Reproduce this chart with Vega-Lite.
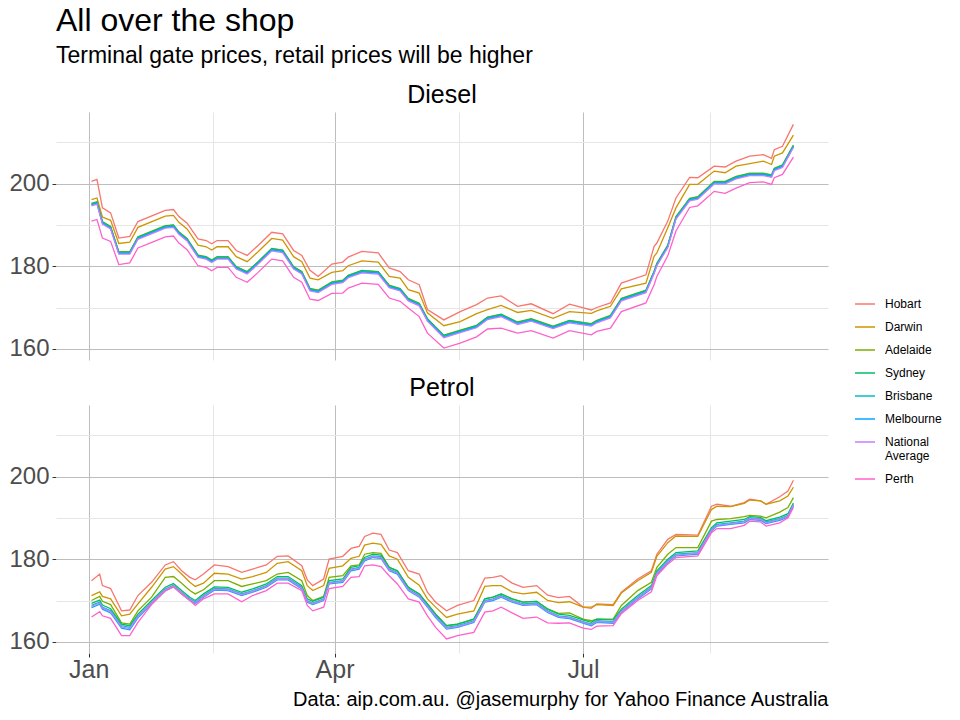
{
  "$schema": "https://vega.github.io/schema/vega-lite/v6.json",
  "background": "white",
  "padding": {"left": 8, "top": 5, "right": 5, "bottom": 5},
  "title": {
    "text": "All over the shop",
    "subtitle": "Terminal gate prices, retail prices will be higher",
    "anchor": "start",
    "frame": "group",
    "font": "Liberation Sans",
    "subtitleFont": "Liberation Sans",
    "fontSize": 32,
    "subtitleFontSize": 23,
    "fontWeight": "normal",
    "color": "black",
    "subtitleColor": "black",
    "subtitlePadding": 7,
    "offset": 14
  },
  "data": {"values": [
    {"fuel":"Diesel","date":"2023/01/02","Hobart":200.5,"Darwin":196.1,"Adelaide":195.2,"Sydney":195.1,"Brisbane":194.9,"Melbourne":194.8,"National Average":194.6,"Perth":190.9},
    {"fuel":"Diesel","date":"2023/01/04","Hobart":201.0,"Darwin":196.5,"Adelaide":195.6,"Sydney":195.5,"Brisbane":195.3,"Melbourne":195.2,"National Average":195.0,"Perth":191.3},
    {"fuel":"Diesel","date":"2023/01/06","Hobart":194.1,"Darwin":191.9,"Adelaide":190.8,"Sydney":190.7,"Brisbane":190.5,"Melbourne":190.4,"National Average":190.2,"Perth":186.8},
    {"fuel":"Diesel","date":"2023/01/09","Hobart":192.9,"Darwin":191.1,"Adelaide":189.6,"Sydney":189.5,"Brisbane":189.3,"Melbourne":189.2,"National Average":189.0,"Perth":186.0},
    {"fuel":"Diesel","date":"2023/01/12","Hobart":186.8,"Darwin":185.5,"Adelaide":183.5,"Sydney":183.4,"Brisbane":183.2,"Melbourne":183.1,"National Average":182.9,"Perth":180.4},
    {"fuel":"Diesel","date":"2023/01/16","Hobart":187.2,"Darwin":185.8,"Adelaide":183.5,"Sydney":183.4,"Brisbane":183.2,"Melbourne":183.1,"National Average":182.9,"Perth":180.8},
    {"fuel":"Diesel","date":"2023/01/19","Hobart":190.8,"Darwin":189.4,"Adelaide":187.1,"Sydney":187.0,"Brisbane":186.8,"Melbourne":186.7,"National Average":186.5,"Perth":184.4},
    {"fuel":"Diesel","date":"2023/01/25","Hobart":192.4,"Darwin":191.0,"Adelaide":188.7,"Sydney":188.6,"Brisbane":188.4,"Melbourne":188.3,"National Average":188.1,"Perth":186.0},
    {"fuel":"Diesel","date":"2023/01/29","Hobart":193.5,"Darwin":192.1,"Adelaide":189.8,"Sydney":189.7,"Brisbane":189.5,"Melbourne":189.4,"National Average":189.2,"Perth":187.1},
    {"fuel":"Diesel","date":"2023/02/01","Hobart":193.7,"Darwin":192.3,"Adelaide":190.0,"Sydney":189.9,"Brisbane":189.7,"Melbourne":189.6,"National Average":189.4,"Perth":187.3},
    {"fuel":"Diesel","date":"2023/02/03","Hobart":192.0,"Darwin":190.6,"Adelaide":188.3,"Sydney":188.2,"Brisbane":188.0,"Melbourne":187.9,"National Average":187.7,"Perth":185.6},
    {"fuel":"Diesel","date":"2023/02/06","Hobart":190.4,"Darwin":189.0,"Adelaide":186.7,"Sydney":186.6,"Brisbane":186.4,"Melbourne":186.3,"National Average":186.1,"Perth":184.0},
    {"fuel":"Diesel","date":"2023/02/10","Hobart":186.6,"Darwin":185.1,"Adelaide":182.7,"Sydney":182.6,"Brisbane":182.4,"Melbourne":182.3,"National Average":182.1,"Perth":180.1},
    {"fuel":"Diesel","date":"2023/02/13","Hobart":186.2,"Darwin":184.7,"Adelaide":182.3,"Sydney":182.2,"Brisbane":182.0,"Melbourne":181.9,"National Average":181.7,"Perth":179.7},
    {"fuel":"Diesel","date":"2023/02/15","Hobart":185.4,"Darwin":183.9,"Adelaide":181.5,"Sydney":181.4,"Brisbane":181.2,"Melbourne":181.1,"National Average":180.9,"Perth":178.9},
    {"fuel":"Diesel","date":"2023/02/17","Hobart":186.2,"Darwin":184.7,"Adelaide":182.3,"Sydney":182.2,"Brisbane":182.0,"Melbourne":181.9,"National Average":181.7,"Perth":179.7},
    {"fuel":"Diesel","date":"2023/02/21","Hobart":186.2,"Darwin":184.7,"Adelaide":182.3,"Sydney":182.2,"Brisbane":182.0,"Melbourne":181.9,"National Average":181.7,"Perth":179.7},
    {"fuel":"Diesel","date":"2023/02/24","Hobart":183.8,"Darwin":182.3,"Adelaide":179.9,"Sydney":179.8,"Brisbane":179.6,"Melbourne":179.5,"National Average":179.3,"Perth":177.3},
    {"fuel":"Diesel","date":"2023/02/28","Hobart":182.6,"Darwin":181.1,"Adelaide":178.7,"Sydney":178.6,"Brisbane":178.4,"Melbourne":178.3,"National Average":178.1,"Perth":176.1},
    {"fuel":"Diesel","date":"2023/03/04","Hobart":185.0,"Darwin":183.5,"Adelaide":181.1,"Sydney":181.0,"Brisbane":180.8,"Melbourne":180.7,"National Average":180.5,"Perth":178.5},
    {"fuel":"Diesel","date":"2023/03/09","Hobart":188.2,"Darwin":186.7,"Adelaide":184.3,"Sydney":184.2,"Brisbane":184.0,"Melbourne":183.9,"National Average":183.7,"Perth":181.7},
    {"fuel":"Diesel","date":"2023/03/13","Hobart":187.8,"Darwin":186.3,"Adelaide":183.9,"Sydney":183.8,"Brisbane":183.6,"Melbourne":183.5,"National Average":183.3,"Perth":181.3},
    {"fuel":"Diesel","date":"2023/03/17","Hobart":183.8,"Darwin":182.3,"Adelaide":179.9,"Sydney":179.8,"Brisbane":179.6,"Melbourne":179.5,"National Average":179.3,"Perth":177.3},
    {"fuel":"Diesel","date":"2023/03/20","Hobart":182.6,"Darwin":181.1,"Adelaide":178.7,"Sydney":178.6,"Brisbane":178.4,"Melbourne":178.3,"National Average":178.1,"Perth":176.1},
    {"fuel":"Diesel","date":"2023/03/23","Hobart":179.0,"Darwin":177.1,"Adelaide":174.6,"Sydney":174.5,"Brisbane":174.3,"Melbourne":174.2,"National Average":174.0,"Perth":172.0},
    {"fuel":"Diesel","date":"2023/03/26","Hobart":177.5,"Darwin":176.7,"Adelaide":174.2,"Sydney":174.1,"Brisbane":173.9,"Melbourne":173.8,"National Average":173.6,"Perth":171.7},
    {"fuel":"Diesel","date":"2023/03/31","Hobart":180.5,"Darwin":178.5,"Adelaide":176.2,"Sydney":176.1,"Brisbane":175.9,"Melbourne":175.8,"National Average":175.6,"Perth":173.4},
    {"fuel":"Diesel","date":"2023/04/04","Hobart":181.0,"Darwin":178.9,"Adelaide":176.6,"Sydney":176.5,"Brisbane":176.3,"Melbourne":176.2,"National Average":176.0,"Perth":173.5},
    {"fuel":"Diesel","date":"2023/04/06","Hobart":182.2,"Darwin":180.1,"Adelaide":177.8,"Sydney":177.7,"Brisbane":177.5,"Melbourne":177.4,"National Average":177.2,"Perth":174.7},
    {"fuel":"Diesel","date":"2023/04/11","Hobart":183.6,"Darwin":181.3,"Adelaide":179.0,"Sydney":178.9,"Brisbane":178.7,"Melbourne":178.6,"National Average":178.4,"Perth":175.9},
    {"fuel":"Diesel","date":"2023/04/17","Hobart":183.2,"Darwin":181.0,"Adelaide":178.7,"Sydney":178.6,"Brisbane":178.4,"Melbourne":178.3,"National Average":178.1,"Perth":175.6},
    {"fuel":"Diesel","date":"2023/04/21","Hobart":179.6,"Darwin":177.5,"Adelaide":175.4,"Sydney":175.3,"Brisbane":175.1,"Melbourne":175.0,"National Average":174.8,"Perth":172.3},
    {"fuel":"Diesel","date":"2023/04/25","Hobart":178.7,"Darwin":177.1,"Adelaide":174.6,"Sydney":174.5,"Brisbane":174.3,"Melbourne":174.2,"National Average":174.0,"Perth":171.5},
    {"fuel":"Diesel","date":"2023/04/28","Hobart":176.7,"Darwin":174.3,"Adelaide":172.2,"Sydney":172.1,"Brisbane":171.9,"Melbourne":171.8,"National Average":171.6,"Perth":169.9},
    {"fuel":"Diesel","date":"2023/05/02","Hobart":175.5,"Darwin":173.5,"Adelaide":171.0,"Sydney":170.9,"Brisbane":170.7,"Melbourne":170.6,"National Average":170.4,"Perth":167.8},
    {"fuel":"Diesel","date":"2023/05/05","Hobart":169.5,"Darwin":168.7,"Adelaide":167.3,"Sydney":167.2,"Brisbane":167.0,"Melbourne":166.9,"National Average":166.7,"Perth":163.8},
    {"fuel":"Diesel","date":"2023/05/11","Hobart":167.0,"Darwin":165.6,"Adelaide":163.3,"Sydney":163.2,"Brisbane":163.0,"Melbourne":162.9,"National Average":162.7,"Perth":160.2},
    {"fuel":"Diesel","date":"2023/05/17","Hobart":169.0,"Darwin":166.6,"Adelaide":164.5,"Sydney":164.4,"Brisbane":164.2,"Melbourne":164.1,"National Average":163.9,"Perth":161.4},
    {"fuel":"Diesel","date":"2023/05/23","Hobart":170.7,"Darwin":168.5,"Adelaide":165.7,"Sydney":165.6,"Brisbane":165.4,"Melbourne":165.3,"National Average":165.1,"Perth":162.9},
    {"fuel":"Diesel","date":"2023/05/27","Hobart":172.3,"Darwin":169.5,"Adelaide":167.7,"Sydney":167.6,"Brisbane":167.4,"Melbourne":167.3,"National Average":167.1,"Perth":164.8},
    {"fuel":"Diesel","date":"2023/06/01","Hobart":172.8,"Darwin":170.5,"Adelaide":168.4,"Sydney":168.3,"Brisbane":168.1,"Melbourne":168.0,"National Average":167.8,"Perth":165.0},
    {"fuel":"Diesel","date":"2023/06/07","Hobart":170.3,"Darwin":168.8,"Adelaide":166.5,"Sydney":166.4,"Brisbane":166.2,"Melbourne":166.1,"National Average":165.9,"Perth":163.8},
    {"fuel":"Diesel","date":"2023/06/12","Hobart":170.9,"Darwin":169.3,"Adelaide":167.3,"Sydney":167.2,"Brisbane":167.0,"Melbourne":166.9,"National Average":166.7,"Perth":164.4},
    {"fuel":"Diesel","date":"2023/06/20","Hobart":168.5,"Darwin":167.4,"Adelaide":165.5,"Sydney":165.4,"Brisbane":165.2,"Melbourne":165.1,"National Average":164.9,"Perth":162.6},
    {"fuel":"Diesel","date":"2023/06/26","Hobart":170.8,"Darwin":169.0,"Adelaide":166.9,"Sydney":166.8,"Brisbane":166.6,"Melbourne":166.5,"National Average":166.3,"Perth":164.4},
    {"fuel":"Diesel","date":"2023/07/04","Hobart":169.4,"Darwin":168.6,"Adelaide":166.1,"Sydney":166.0,"Brisbane":165.8,"Melbourne":165.7,"National Average":165.5,"Perth":163.4},
    {"fuel":"Diesel","date":"2023/07/06","Hobart":170.0,"Darwin":169.2,"Adelaide":166.9,"Sydney":166.8,"Brisbane":166.6,"Melbourne":166.5,"National Average":166.3,"Perth":164.2},
    {"fuel":"Diesel","date":"2023/07/11","Hobart":171.1,"Darwin":170.3,"Adelaide":168.1,"Sydney":168.0,"Brisbane":167.8,"Melbourne":167.7,"National Average":167.5,"Perth":165.0},
    {"fuel":"Diesel","date":"2023/07/15","Hobart":175.9,"Darwin":174.5,"Adelaide":172.2,"Sydney":172.1,"Brisbane":171.9,"Melbourne":171.8,"National Average":171.6,"Perth":169.0},
    {"fuel":"Diesel","date":"2023/07/24","Hobart":177.9,"Darwin":175.9,"Adelaide":174.2,"Sydney":174.1,"Brisbane":173.9,"Melbourne":173.8,"National Average":173.6,"Perth":171.1},
    {"fuel":"Diesel","date":"2023/07/27","Hobart":184.8,"Darwin":182.4,"Adelaide":178.8,"Sydney":178.7,"Brisbane":178.5,"Melbourne":178.4,"National Average":178.2,"Perth":175.5},
    {"fuel":"Diesel","date":"2023/07/28","Hobart":185.6,"Darwin":183.2,"Adelaide":180.7,"Sydney":180.6,"Brisbane":180.4,"Melbourne":180.3,"National Average":180.1,"Perth":177.5},
    {"fuel":"Diesel","date":"2023/08/01","Hobart":190.9,"Darwin":189.3,"Adelaide":185.1,"Sydney":185.0,"Brisbane":184.8,"Melbourne":184.7,"National Average":184.5,"Perth":182.5},
    {"fuel":"Diesel","date":"2023/08/04","Hobart":196.5,"Darwin":194.1,"Adelaide":192.0,"Sydney":191.9,"Brisbane":191.7,"Melbourne":191.6,"National Average":191.4,"Perth":188.5},
    {"fuel":"Diesel","date":"2023/08/09","Hobart":201.5,"Darwin":199.8,"Adelaide":196.4,"Sydney":196.3,"Brisbane":196.1,"Melbourne":196.0,"National Average":195.8,"Perth":194.2},
    {"fuel":"Diesel","date":"2023/08/12","Hobart":201.4,"Darwin":199.8,"Adelaide":196.8,"Sydney":196.7,"Brisbane":196.5,"Melbourne":196.4,"National Average":196.2,"Perth":194.6},
    {"fuel":"Diesel","date":"2023/08/18","Hobart":204.2,"Darwin":203.0,"Adelaide":200.5,"Sydney":200.4,"Brisbane":200.2,"Melbourne":200.1,"National Average":199.9,"Perth":198.1},
    {"fuel":"Diesel","date":"2023/08/22","Hobart":204.0,"Darwin":202.6,"Adelaide":200.5,"Sydney":200.4,"Brisbane":200.2,"Melbourne":200.1,"National Average":199.9,"Perth":197.6},
    {"fuel":"Diesel","date":"2023/08/26","Hobart":205.4,"Darwin":204.2,"Adelaide":201.7,"Sydney":201.6,"Brisbane":201.4,"Melbourne":201.3,"National Average":201.1,"Perth":198.9},
    {"fuel":"Diesel","date":"2023/08/31","Hobart":206.6,"Darwin":204.8,"Adelaide":202.5,"Sydney":202.4,"Brisbane":202.2,"Melbourne":202.1,"National Average":201.9,"Perth":200.2},
    {"fuel":"Diesel","date":"2023/09/05","Hobart":207.0,"Darwin":205.4,"Adelaide":202.5,"Sydney":202.4,"Brisbane":202.2,"Melbourne":202.1,"National Average":201.9,"Perth":200.4},
    {"fuel":"Diesel","date":"2023/09/08","Hobart":206.1,"Darwin":204.6,"Adelaide":202.1,"Sydney":202.0,"Brisbane":201.8,"Melbourne":201.7,"National Average":201.5,"Perth":199.8},
    {"fuel":"Diesel","date":"2023/09/09","Hobart":208.2,"Darwin":206.6,"Adelaide":203.7,"Sydney":203.6,"Brisbane":203.4,"Melbourne":203.3,"National Average":203.1,"Perth":201.4},
    {"fuel":"Diesel","date":"2023/09/12","Hobart":209.0,"Darwin":207.4,"Adelaide":204.5,"Sydney":204.4,"Brisbane":204.2,"Melbourne":204.1,"National Average":203.9,"Perth":202.2},
    {"fuel":"Diesel","date":"2023/09/16","Hobart":214.3,"Darwin":211.7,"Adelaide":209.3,"Sydney":209.2,"Brisbane":209.0,"Melbourne":208.9,"National Average":208.7,"Perth":206.4},
    {"fuel":"Petrol","date":"2023/01/02","Hobart":174.8,"Darwin":171.2,"Adelaide":170.0,"Sydney":169.3,"Brisbane":168.8,"Melbourne":168.3,"National Average":168.6,"Perth":166.0},
    {"fuel":"Petrol","date":"2023/01/05","Hobart":176.4,"Darwin":172.1,"Adelaide":171.0,"Sydney":170.1,"Brisbane":169.6,"Melbourne":169.1,"National Average":169.4,"Perth":167.3},
    {"fuel":"Petrol","date":"2023/01/06","Hobart":173.6,"Darwin":171.0,"Adelaide":169.8,"Sydney":168.9,"Brisbane":168.4,"Melbourne":167.9,"National Average":168.2,"Perth":166.3},
    {"fuel":"Petrol","date":"2023/01/09","Hobart":172.9,"Darwin":170.4,"Adelaide":169.0,"Sydney":168.0,"Brisbane":167.5,"Melbourne":167.0,"National Average":167.3,"Perth":165.7},
    {"fuel":"Petrol","date":"2023/01/13","Hobart":167.5,"Darwin":166.3,"Adelaide":164.6,"Sydney":164.3,"Brisbane":163.9,"Melbourne":163.3,"National Average":163.6,"Perth":161.5},
    {"fuel":"Petrol","date":"2023/01/16","Hobart":167.7,"Darwin":166.7,"Adelaide":164.3,"Sydney":163.9,"Brisbane":163.5,"Melbourne":162.9,"National Average":163.2,"Perth":161.5},
    {"fuel":"Petrol","date":"2023/01/19","Hobart":171.2,"Darwin":169.2,"Adelaide":167.5,"Sydney":166.7,"Brisbane":166.3,"Melbourne":165.8,"National Average":166.1,"Perth":164.7},
    {"fuel":"Petrol","date":"2023/01/24","Hobart":174.4,"Darwin":173.2,"Adelaide":170.8,"Sydney":170.0,"Brisbane":169.6,"Melbourne":169.2,"National Average":169.4,"Perth":169.0},
    {"fuel":"Petrol","date":"2023/01/29","Hobart":178.6,"Darwin":177.6,"Adelaide":175.6,"Sydney":173.2,"Brisbane":172.8,"Melbourne":172.4,"National Average":172.6,"Perth":172.3},
    {"fuel":"Petrol","date":"2023/02/01","Hobart":179.4,"Darwin":178.2,"Adelaide":175.8,"Sydney":174.1,"Brisbane":173.7,"Melbourne":173.3,"National Average":173.5,"Perth":173.3},
    {"fuel":"Petrol","date":"2023/02/04","Hobart":177.2,"Darwin":176.4,"Adelaide":174.2,"Sydney":172.4,"Brisbane":172.0,"Melbourne":171.6,"National Average":171.8,"Perth":171.6},
    {"fuel":"Petrol","date":"2023/02/07","Hobart":175.6,"Darwin":174.4,"Adelaide":172.4,"Sydney":170.8,"Brisbane":170.4,"Melbourne":170.0,"National Average":170.2,"Perth":170.0},
    {"fuel":"Petrol","date":"2023/02/09","Hobart":175.0,"Darwin":173.4,"Adelaide":171.6,"Sydney":170.0,"Brisbane":169.6,"Melbourne":169.2,"National Average":169.4,"Perth":168.8},
    {"fuel":"Petrol","date":"2023/02/12","Hobart":176.4,"Darwin":174.2,"Adelaide":172.6,"Sydney":171.6,"Brisbane":171.2,"Melbourne":170.8,"National Average":171.0,"Perth":170.4},
    {"fuel":"Petrol","date":"2023/02/16","Hobart":178.6,"Darwin":176.6,"Adelaide":174.8,"Sydney":173.3,"Brisbane":172.9,"Melbourne":172.5,"National Average":172.7,"Perth":171.6},
    {"fuel":"Petrol","date":"2023/02/21","Hobart":178.2,"Darwin":176.4,"Adelaide":174.8,"Sydney":173.2,"Brisbane":172.8,"Melbourne":172.4,"National Average":172.6,"Perth":171.6},
    {"fuel":"Petrol","date":"2023/02/26","Hobart":176.8,"Darwin":175.2,"Adelaide":173.4,"Sydney":172.0,"Brisbane":171.6,"Melbourne":171.2,"National Average":171.4,"Perth":169.7},
    {"fuel":"Petrol","date":"2023/03/02","Hobart":177.6,"Darwin":175.8,"Adelaide":174.0,"Sydney":172.8,"Brisbane":172.4,"Melbourne":172.0,"National Average":172.2,"Perth":171.2},
    {"fuel":"Petrol","date":"2023/03/07","Hobart":178.6,"Darwin":176.8,"Adelaide":174.8,"Sydney":174.0,"Brisbane":173.6,"Melbourne":173.2,"National Average":173.4,"Perth":172.4},
    {"fuel":"Petrol","date":"2023/03/11","Hobart":180.7,"Darwin":179.0,"Adelaide":176.4,"Sydney":175.8,"Brisbane":175.4,"Melbourne":175.0,"National Average":175.2,"Perth":174.2},
    {"fuel":"Petrol","date":"2023/03/15","Hobart":180.8,"Darwin":179.4,"Adelaide":176.8,"Sydney":175.8,"Brisbane":175.4,"Melbourne":175.0,"National Average":175.2,"Perth":174.2},
    {"fuel":"Petrol","date":"2023/03/20","Hobart":178.4,"Darwin":177.2,"Adelaide":174.8,"Sydney":173.6,"Brisbane":173.2,"Melbourne":172.8,"National Average":173.0,"Perth":172.4},
    {"fuel":"Petrol","date":"2023/03/22","Hobart":175.0,"Darwin":173.6,"Adelaide":171.2,"Sydney":170.4,"Brisbane":170.0,"Melbourne":169.6,"National Average":169.8,"Perth":168.8},
    {"fuel":"Petrol","date":"2023/03/24","Hobart":173.6,"Darwin":172.4,"Adelaide":170.0,"Sydney":169.8,"Brisbane":169.4,"Melbourne":169.0,"National Average":169.2,"Perth":167.5},
    {"fuel":"Petrol","date":"2023/03/28","Hobart":175.2,"Darwin":173.6,"Adelaide":171.0,"Sydney":170.8,"Brisbane":170.4,"Melbourne":170.0,"National Average":170.2,"Perth":168.4},
    {"fuel":"Petrol","date":"2023/03/30","Hobart":180.0,"Darwin":177.8,"Adelaide":175.6,"Sydney":174.8,"Brisbane":174.4,"Melbourne":174.0,"National Average":174.2,"Perth":172.9},
    {"fuel":"Petrol","date":"2023/04/04","Hobart":180.7,"Darwin":178.4,"Adelaide":176.0,"Sydney":175.2,"Brisbane":174.8,"Melbourne":174.4,"National Average":174.6,"Perth":173.4},
    {"fuel":"Petrol","date":"2023/04/07","Hobart":182.6,"Darwin":180.2,"Adelaide":178.4,"Sydney":178.0,"Brisbane":177.6,"Melbourne":177.2,"National Average":177.4,"Perth":175.6},
    {"fuel":"Petrol","date":"2023/04/10","Hobart":183.1,"Darwin":180.7,"Adelaide":178.6,"Sydney":178.4,"Brisbane":178.0,"Melbourne":177.6,"National Average":177.8,"Perth":175.8},
    {"fuel":"Petrol","date":"2023/04/12","Hobart":185.5,"Darwin":183.4,"Adelaide":181.2,"Sydney":180.4,"Brisbane":180.0,"Melbourne":179.6,"National Average":179.8,"Perth":178.4},
    {"fuel":"Petrol","date":"2023/04/15","Hobart":186.3,"Darwin":183.9,"Adelaide":181.6,"Sydney":181.2,"Brisbane":180.8,"Melbourne":180.4,"National Average":180.6,"Perth":178.6},
    {"fuel":"Petrol","date":"2023/04/18","Hobart":186.0,"Darwin":183.6,"Adelaide":181.4,"Sydney":181.0,"Brisbane":180.6,"Melbourne":180.2,"National Average":180.4,"Perth":178.2},
    {"fuel":"Petrol","date":"2023/04/21","Hobart":182.2,"Darwin":180.8,"Adelaide":178.0,"Sydney":178.0,"Brisbane":177.6,"Melbourne":177.2,"National Average":177.4,"Perth":176.0},
    {"fuel":"Petrol","date":"2023/04/24","Hobart":181.6,"Darwin":180.0,"Adelaide":177.2,"Sydney":177.2,"Brisbane":176.8,"Melbourne":176.4,"National Average":176.6,"Perth":174.0},
    {"fuel":"Petrol","date":"2023/04/28","Hobart":177.2,"Darwin":175.6,"Adelaide":173.2,"Sydney":173.2,"Brisbane":172.8,"Melbourne":172.4,"National Average":172.6,"Perth":170.4},
    {"fuel":"Petrol","date":"2023/05/02","Hobart":176.4,"Darwin":173.7,"Adelaide":171.6,"Sydney":171.6,"Brisbane":171.2,"Melbourne":170.8,"National Average":171.0,"Perth":169.6},
    {"fuel":"Petrol","date":"2023/05/05","Hobart":172.0,"Darwin":170.4,"Adelaide":169.2,"Sydney":169.2,"Brisbane":168.8,"Melbourne":168.4,"National Average":168.6,"Perth":166.3},
    {"fuel":"Petrol","date":"2023/05/08","Hobart":169.6,"Darwin":168.4,"Adelaide":166.7,"Sydney":166.7,"Brisbane":166.3,"Melbourne":165.9,"National Average":166.1,"Perth":163.5},
    {"fuel":"Petrol","date":"2023/05/12","Hobart":167.5,"Darwin":165.9,"Adelaide":163.9,"Sydney":163.9,"Brisbane":163.5,"Melbourne":163.1,"National Average":163.3,"Perth":160.7},
    {"fuel":"Petrol","date":"2023/05/16","Hobart":168.8,"Darwin":166.7,"Adelaide":164.3,"Sydney":164.3,"Brisbane":163.9,"Melbourne":163.5,"National Average":163.7,"Perth":161.5},
    {"fuel":"Petrol","date":"2023/05/22","Hobart":170.0,"Darwin":167.5,"Adelaide":165.5,"Sydney":165.5,"Brisbane":165.1,"Melbourne":164.7,"National Average":164.9,"Perth":162.3},
    {"fuel":"Petrol","date":"2023/05/26","Hobart":175.4,"Darwin":173.4,"Adelaide":170.4,"Sydney":170.4,"Brisbane":170.0,"Melbourne":169.6,"National Average":169.8,"Perth":167.2},
    {"fuel":"Petrol","date":"2023/05/29","Hobart":175.6,"Darwin":173.6,"Adelaide":170.8,"Sydney":170.8,"Brisbane":170.4,"Melbourne":170.0,"National Average":170.2,"Perth":167.5},
    {"fuel":"Petrol","date":"2023/06/01","Hobart":176.0,"Darwin":173.6,"Adelaide":171.6,"Sydney":171.6,"Brisbane":171.2,"Melbourne":170.8,"National Average":171.0,"Perth":168.4},
    {"fuel":"Petrol","date":"2023/06/05","Hobart":174.2,"Darwin":172.1,"Adelaide":170.4,"Sydney":170.4,"Brisbane":170.0,"Melbourne":169.6,"National Average":169.8,"Perth":167.0},
    {"fuel":"Petrol","date":"2023/06/09","Hobart":173.2,"Darwin":171.6,"Adelaide":169.6,"Sydney":169.6,"Brisbane":169.2,"Melbourne":168.8,"National Average":169.0,"Perth":165.7},
    {"fuel":"Petrol","date":"2023/06/14","Hobart":173.6,"Darwin":172.0,"Adelaide":169.8,"Sydney":169.8,"Brisbane":169.4,"Melbourne":169.0,"National Average":169.2,"Perth":166.0},
    {"fuel":"Petrol","date":"2023/06/18","Hobart":171.3,"Darwin":170.0,"Adelaide":168.0,"Sydney":167.9,"Brisbane":167.5,"Melbourne":167.1,"National Average":167.3,"Perth":164.6},
    {"fuel":"Petrol","date":"2023/06/22","Hobart":170.7,"Darwin":169.5,"Adelaide":166.9,"Sydney":166.7,"Brisbane":166.3,"Melbourne":165.9,"National Average":166.1,"Perth":164.5},
    {"fuel":"Petrol","date":"2023/06/26","Hobart":171.0,"Darwin":169.7,"Adelaide":167.0,"Sydney":166.4,"Brisbane":166.0,"Melbourne":165.6,"National Average":165.8,"Perth":164.6},
    {"fuel":"Petrol","date":"2023/07/01","Hobart":168.4,"Darwin":168.4,"Adelaide":165.5,"Sydney":165.3,"Brisbane":164.9,"Melbourne":164.5,"National Average":164.7,"Perth":163.3},
    {"fuel":"Petrol","date":"2023/07/04","Hobart":168.1,"Darwin":168.4,"Adelaide":165.1,"Sydney":164.7,"Brisbane":164.3,"Melbourne":163.9,"National Average":164.1,"Perth":163.0},
    {"fuel":"Petrol","date":"2023/07/06","Hobart":169.2,"Darwin":169.0,"Adelaide":165.5,"Sydney":165.5,"Brisbane":165.1,"Melbourne":164.7,"National Average":164.9,"Perth":163.8},
    {"fuel":"Petrol","date":"2023/07/12","Hobart":169.0,"Darwin":168.8,"Adelaide":165.5,"Sydney":165.3,"Brisbane":164.9,"Melbourne":164.5,"National Average":164.7,"Perth":163.9},
    {"fuel":"Petrol","date":"2023/07/15","Hobart":172.0,"Darwin":171.8,"Adelaide":168.8,"Sydney":167.9,"Brisbane":167.5,"Melbourne":167.1,"National Average":167.3,"Perth":166.8},
    {"fuel":"Petrol","date":"2023/07/21","Hobart":175.2,"Darwin":174.8,"Adelaide":172.4,"Sydney":171.2,"Brisbane":170.8,"Melbourne":170.4,"National Average":170.6,"Perth":170.0},
    {"fuel":"Petrol","date":"2023/07/26","Hobart":177.2,"Darwin":176.8,"Adelaide":174.4,"Sydney":173.6,"Brisbane":173.2,"Melbourne":172.8,"National Average":173.0,"Perth":172.1},
    {"fuel":"Petrol","date":"2023/07/28","Hobart":181.2,"Darwin":180.7,"Adelaide":178.0,"Sydney":177.2,"Brisbane":176.8,"Melbourne":176.4,"National Average":176.6,"Perth":176.0},
    {"fuel":"Petrol","date":"2023/08/01","Hobart":184.8,"Darwin":184.0,"Adelaide":181.2,"Sydney":180.0,"Brisbane":179.6,"Melbourne":179.2,"National Average":179.4,"Perth":178.8},
    {"fuel":"Petrol","date":"2023/08/04","Hobart":186.0,"Darwin":185.6,"Adelaide":182.8,"Sydney":181.6,"Brisbane":181.2,"Melbourne":180.8,"National Average":181.0,"Perth":180.4},
    {"fuel":"Petrol","date":"2023/08/12","Hobart":185.8,"Darwin":185.5,"Adelaide":182.8,"Sydney":182.0,"Brisbane":181.6,"Melbourne":181.2,"National Average":181.4,"Perth":180.8},
    {"fuel":"Petrol","date":"2023/08/17","Hobart":192.8,"Darwin":192.0,"Adelaide":189.2,"Sydney":187.6,"Brisbane":187.2,"Melbourne":186.8,"National Average":187.0,"Perth":186.4},
    {"fuel":"Petrol","date":"2023/08/19","Hobart":193.3,"Darwin":192.8,"Adelaide":189.6,"Sydney":188.8,"Brisbane":188.4,"Melbourne":188.0,"National Average":188.2,"Perth":187.4},
    {"fuel":"Petrol","date":"2023/08/24","Hobart":192.8,"Darwin":192.7,"Adelaide":189.8,"Sydney":189.2,"Brisbane":188.8,"Melbourne":188.4,"National Average":188.6,"Perth":187.4},
    {"fuel":"Petrol","date":"2023/08/29","Hobart":193.7,"Darwin":193.5,"Adelaide":190.3,"Sydney":189.6,"Brisbane":189.2,"Melbourne":188.8,"National Average":189.0,"Perth":188.2},
    {"fuel":"Petrol","date":"2023/08/31","Hobart":194.5,"Darwin":194.3,"Adelaide":190.6,"Sydney":190.3,"Brisbane":190.0,"Melbourne":189.6,"National Average":189.8,"Perth":189.2},
    {"fuel":"Petrol","date":"2023/09/04","Hobart":194.1,"Darwin":194.1,"Adelaide":190.4,"Sydney":190.1,"Brisbane":189.8,"Melbourne":189.4,"National Average":189.6,"Perth":189.0},
    {"fuel":"Petrol","date":"2023/09/06","Hobart":193.3,"Darwin":193.3,"Adelaide":190.0,"Sydney":189.3,"Brisbane":189.0,"Melbourne":188.6,"National Average":188.8,"Perth":188.0},
    {"fuel":"Petrol","date":"2023/09/11","Hobart":195.1,"Darwin":194.1,"Adelaide":191.4,"Sydney":190.2,"Brisbane":189.8,"Melbourne":189.4,"National Average":189.6,"Perth":188.8},
    {"fuel":"Petrol","date":"2023/09/14","Hobart":196.5,"Darwin":195.3,"Adelaide":192.5,"Sydney":191.0,"Brisbane":190.6,"Melbourne":190.2,"National Average":190.4,"Perth":190.0},
    {"fuel":"Petrol","date":"2023/09/16","Hobart":199.1,"Darwin":197.4,"Adelaide":194.9,"Sydney":193.6,"Brisbane":193.3,"Melbourne":192.9,"National Average":193.1,"Perth":192.5}
  ]},
  "transform": [
    {"fold": ["Hobart","Darwin","Adelaide","Sydney","Brisbane","Melbourne","National Average","Perth"], "as": ["city","price"]}
  ],
  "facet": {
    "field": "fuel",
    "type": "nominal",
    "sort": ["Diesel","Petrol"],
    "header": {"title": null, "labelFontSize": 25, "labelFont": "Liberation Sans", "labelColor": "black", "labelPadding": 4}
  },
  "columns": 1,
  "spacing": 16,
  "spec": {
    "width": 772,
    "height": 248,
    "mark": {"type": "line", "strokeWidth": 1.3},
    "encoding": {
      "x": {
        "field": "date",
        "type": "temporal",
        "scale": {"domain": [{"year": 2022, "month": 12, "date": 20}, {"year": 2023, "month": 9, "date": 28, "hours": 16}], "nice": false},
        "axis": {
          "title": "Data: aip.com.au. @jasemurphy for Yahoo Finance Australia",
          "titleAnchor": "end",
          "titleFontSize": 20,
          "titleFontWeight": "normal",
          "titleColor": "black",
          "titlePadding": 7,
          "values": [
            {"year": 2023, "month": 1, "date": 1},
            {"year": 2023, "month": 2, "date": 15, "hours": 12},
            {"year": 2023, "month": 4, "date": 1},
            {"year": 2023, "month": 5, "date": 16, "hours": 12},
            {"year": 2023, "month": 7, "date": 1},
            {"year": 2023, "month": 8, "date": 16, "hours": 12}
          ],
          "labelExpr": "date(datum.value) === 1 ? timeFormat(datum.value, '%b') : ''",
          "labelOverlap": false,
          "labelFlush": false,
          "labelPadding": 0,
          "labelFontSize": 25,
          "tickSize": 4,
          "gridColor": {"condition": {"test": "date(datum.value) === 1", "value": "#bdbdbd"}, "value": "#e6e6e6"},
          "tickColor": {"condition": {"test": "date(datum.value) === 1", "value": "#333333"}, "value": "transparent"}
        }
      },
      "y": {
        "field": "price",
        "type": "quantitative",
        "scale": {"domain": [157.3, 217.3], "nice": false, "zero": false},
        "axis": {
          "title": null,
          "values": [160, 170, 180, 190, 200, 210],
          "labelExpr": "datum.value % 20 === 0 ? datum.label : ''",
          "labelOverlap": false,
          "labelPadding": 3,
          "tickSize": 4,
          "gridColor": {"condition": {"test": "datum.value % 20 === 0", "value": "#bdbdbd"}, "value": "#e6e6e6"},
          "tickColor": {"condition": {"test": "datum.value % 20 === 0", "value": "#333333"}, "value": "transparent"}
        }
      },
      "color": {
        "field": "city",
        "type": "nominal",
        "scale": {
          "domain": ["Hobart","Darwin","Adelaide","Sydney","Brisbane","Melbourne","National Average","Perth"],
          "range": ["#F8766D","#CD9600","#7CAE00","#00BE67","#00BFC4","#00A9FF","#C77CFF","#FF61CC"]
        },
        "legend": {
          "title": null,
          "orient": "none",
          "legendX": 798,
          "legendY": 181,
          "symbolType": "stroke",
          "symbolSize": 400,
          "symbolStrokeWidth": 1.5,
          "labelFontSize": 12,
          "labelColor": "black",
          "labelFont": "Liberation Sans",
          "labelOffset": 9,
          "rowPadding": 6,
          "labelExpr": "datum.label === 'National Average' ? ['National', 'Average'] : datum.label"
        }
      }
    }
  },
  "config": {
    "font": "Liberation Sans",
    "view": {"stroke": null},
    "axis": {"domain": false, "gridWidth": 1, "labelColor": "#4d4d4d", "labelFontSize": 24, "labelFont": "Liberation Sans"}
  }
}
